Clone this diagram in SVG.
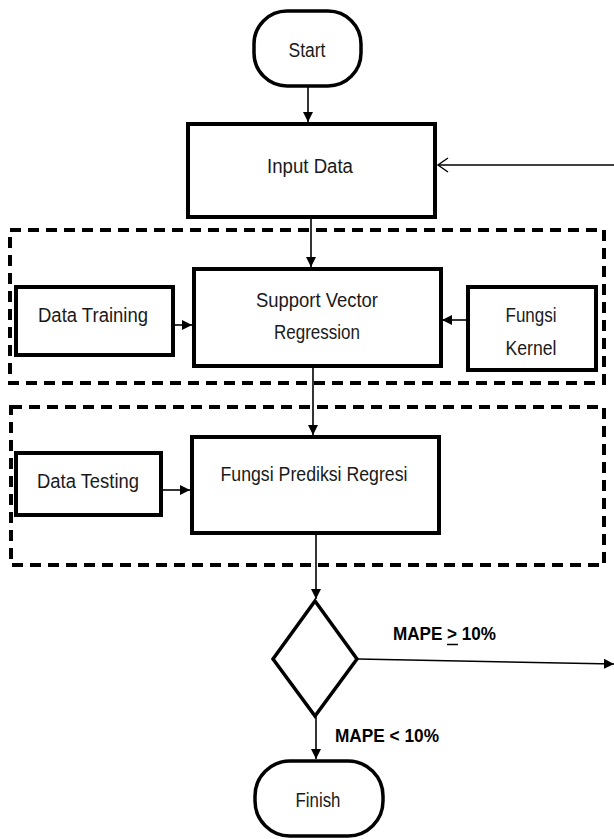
<svg xmlns="http://www.w3.org/2000/svg" width="614" height="839" viewBox="0 0 614 839">
<defs>
<style>
.box{fill:#fff;stroke:#000;stroke-width:4}
.term{fill:#fff;stroke:#000;stroke-width:3.5}
.dash{fill:none;stroke:#000;stroke-width:4;stroke-dasharray:11 7}
.con{fill:none;stroke:#000;stroke-width:1.6}
.t{font-family:"Liberation Sans",Arial,sans-serif;font-size:20px;fill:#1a1a1a}
.b{font-family:"Liberation Sans",Arial,sans-serif;font-size:18px;font-weight:bold;fill:#000}
</style>
<marker id="ah" markerUnits="userSpaceOnUse" markerWidth="12" markerHeight="12" refX="10" refY="6" orient="auto">
<path d="M0,1 L10,6 L0,11 Z" fill="#000"/>
</marker>
<marker id="ao" markerUnits="userSpaceOnUse" markerWidth="14" markerHeight="16" refX="11" refY="8" orient="auto">
<path d="M1,1 L11,8 L1,15" fill="none" stroke="#000" stroke-width="1.4"/>
</marker>
</defs>
<rect width="614" height="839" fill="#fff"/>

<g id="group-training"><rect class="dash" x="10" y="230" width="594" height="153"/></g>
<g id="group-testing"><rect class="dash" x="11" y="407" width="593" height="158"/></g>

<g id="connectors">
<line class="con" x1="308" y1="86" x2="308" y2="122" marker-end="url(#ah)"/>
<line class="con" x1="614" y1="165" x2="438" y2="165" marker-end="url(#ao)"/>
<line class="con" x1="311" y1="217" x2="311" y2="267" marker-end="url(#ah)"/>
<line class="con" x1="173" y1="325" x2="192" y2="325" marker-end="url(#ah)"/>
<line class="con" x1="468" y1="320" x2="442" y2="320" marker-end="url(#ah)"/>
<line class="con" x1="313" y1="366" x2="313" y2="435" marker-end="url(#ah)"/>
<line class="con" x1="161" y1="490" x2="190" y2="490" marker-end="url(#ah)"/>
<line class="con" x1="316" y1="533" x2="316" y2="599" marker-end="url(#ah)"/>
<line class="con" x1="358" y1="659" x2="614" y2="664" marker-end="url(#ah)"/>
<line class="con" x1="316" y1="716" x2="316" y2="759" marker-end="url(#ah)"/>
</g>

<g id="start">
<rect class="term" x="254" y="11" width="107" height="75" rx="33" ry="33"/>
<text class="t" x="307" y="57" text-anchor="middle" textLength="37" lengthAdjust="spacingAndGlyphs">Start</text>
</g>

<g id="input-data">
<rect class="box" x="188" y="124" width="247" height="93"/>
<text class="t" x="310" y="173" text-anchor="middle" textLength="86" lengthAdjust="spacingAndGlyphs">Input Data</text>
</g>

<g id="data-training">
<rect class="box" x="16" y="287" width="157" height="68"/>
<text class="t" x="93" y="322" text-anchor="middle" textLength="110" lengthAdjust="spacingAndGlyphs">Data Training</text>
</g>

<g id="svr">
<rect class="box" x="194" y="269" width="247" height="97"/>
<text class="t" x="317" y="307" text-anchor="middle" textLength="122" lengthAdjust="spacingAndGlyphs">Support Vector</text>
<text class="t" x="317" y="339" text-anchor="middle" textLength="86" lengthAdjust="spacingAndGlyphs">Regression</text>
</g>

<g id="fungsi-kernel">
<rect class="box" x="468" y="287" width="128" height="83"/>
<text class="t" x="531" y="322" text-anchor="middle" textLength="51" lengthAdjust="spacingAndGlyphs">Fungsi</text>
<text class="t" x="531" y="355" text-anchor="middle" textLength="51" lengthAdjust="spacingAndGlyphs">Kernel</text>
</g>

<g id="data-testing">
<rect class="box" x="16" y="453" width="145" height="62"/>
<text class="t" x="88" y="488" text-anchor="middle" textLength="102" lengthAdjust="spacingAndGlyphs">Data Testing</text>
</g>

<g id="fungsi-prediksi">
<rect class="box" x="192" y="437" width="247" height="96"/>
<text class="t" x="314" y="481" text-anchor="middle" textLength="187" lengthAdjust="spacingAndGlyphs">Fungsi Prediksi Regresi</text>
</g>

<g id="decision">
<polygon points="315,601 357,659 315,716 273,659" fill="#fff" stroke="#000" stroke-width="3.5"/>
<text class="b" x="393" y="640" textLength="103" lengthAdjust="spacingAndGlyphs">MAPE &gt; 10%</text>
<line x1="447" y1="644.5" x2="458" y2="644.5" stroke="#000" stroke-width="1.5"/>
<text class="b" x="335" y="742" textLength="104" lengthAdjust="spacingAndGlyphs">MAPE &lt; 10%</text>
</g>

<g id="finish">
<rect class="term" x="255" y="761" width="128" height="75" rx="35" ry="35"/>
<text class="t" x="318" y="807" text-anchor="middle" textLength="45" lengthAdjust="spacingAndGlyphs">Finish</text>
</g>
</svg>
